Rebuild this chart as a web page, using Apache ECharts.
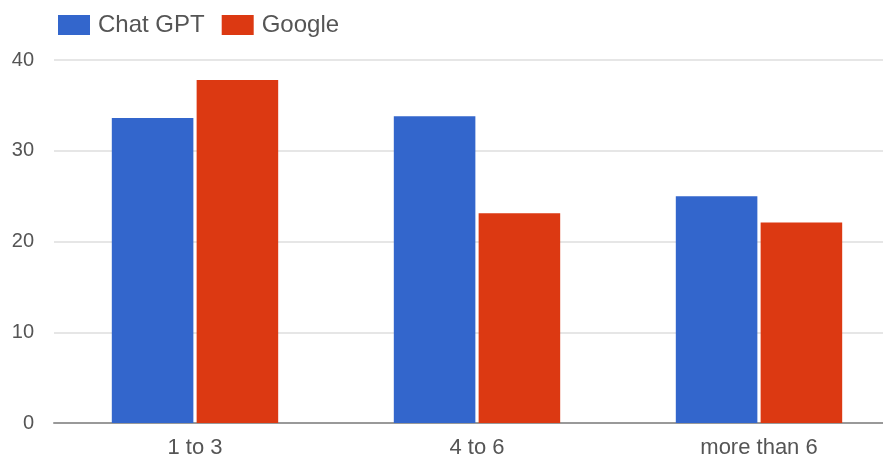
<!DOCTYPE html>
<html>
<head>
<meta charset="utf-8">
<script src="https://cdn.jsdelivr.net/npm/echarts@6/dist/echarts.min.js"></script>
<style>
  html, body { margin: 0; padding: 0; background: #fff; }
  #chart { width: 883px; height: 461px; }
</style>
</head>
<body>
<div id="chart"></div>
<script>
  // values
  var categories = ['1 to 3', '4 to 6', 'more than 6']
  var chatGpt = [33.6, 33.8, 25.0]
  var google = [37.8, 23.1, 22.1]
  var yTicks = [0, 10, 20, 30, 40]

  var myChart = echarts.init(document.getElementById('chart'))
  var labelFont = '"Liberation Sans", Arial, sans-serif'

  var option = {
    animation: false,
    color: ['#3366cc', '#dc3912'],
    legend: {
      left: 58,
      top: 13,
      padding: 0,
      itemWidth: 32,
      itemHeight: 20,
      itemGap: 17,
      icon: 'rect',
      textStyle: { fontSize: 24, color: '#555', fontFamily: labelFont, padding: [2, 0, 0, 3] },
      data: ['Chat GPT', 'Google']
    },
    grid: {
      left: 54,
      top: 60,
      width: 846,
      height: 363,
      outerBoundsMode: 'none',
      containLabel: false
    },
    xAxis: {
      type: 'category',
      data: categories,
      axisTick: { show: false },
      axisLine: { lineStyle: { color: '#999', width: 2 } },
      axisLabel: { fontSize: 22, color: '#555', fontFamily: labelFont, margin: 14 }
    },
    yAxis: {
      type: 'value',
      min: yTicks[0],
      max: yTicks[yTicks.length - 1],
      interval: 10,
      axisLine: { show: false },
      axisTick: { show: false },
      axisLabel: { fontSize: 20, color: '#555', fontFamily: labelFont, margin: 20 },
      splitLine: { lineStyle: { color: '#e6e6e6', width: 2 } }
    },
    series: [
      {
        name: 'Chat GPT',
        type: 'bar',
        barCategoryGap: '41%',
        barGap: '4%',
        data: chatGpt
      },
      {
        name: 'Google',
        type: 'bar',
        barCategoryGap: '41%',
        barGap: '4%',
        data: google
      }
    ]
  }

  myChart.setOption(option)
</script>
</body>
</html>
